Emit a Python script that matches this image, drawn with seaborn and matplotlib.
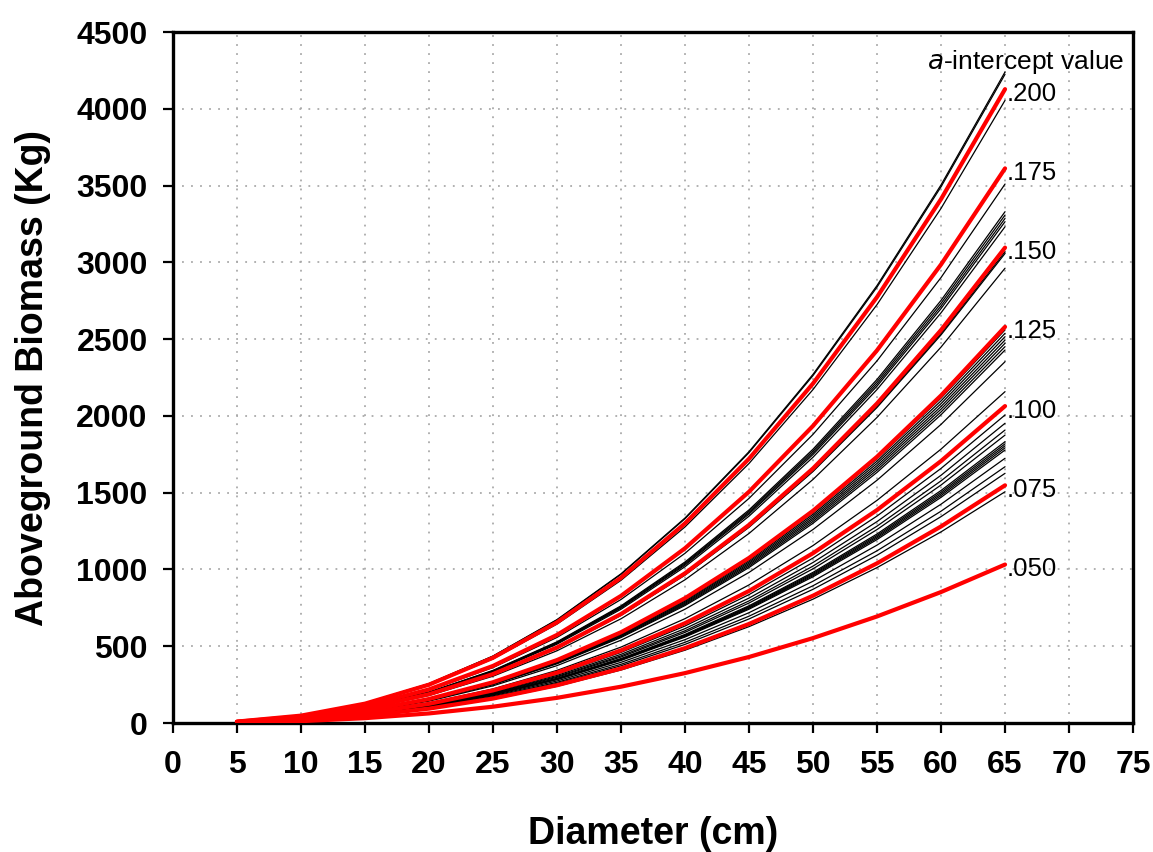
import matplotlib
matplotlib.use("Agg")
import matplotlib.pyplot as plt
import seaborn as sns
import pandas as pd

# ---------------- data ----------------
diameter = [5, 10, 15, 20, 25, 30, 35, 40, 45, 50, 55, 60, 65]

a_labels = [".050", ".075", ".100", ".125", ".150", ".175", ".200"]
red_curves = [
    [2.3, 12.0, 31.5, 62.4, 106.2, 163.9, 236.5, 325, 430, 553, 694, 853, 1032],
    [3.5, 18.0, 47.2, 93.7, 159.3, 245.9, 354.8, 487.5, 645, 829, 1040, 1280, 1548],
    [4.6, 24.0, 63.0, 124.9, 212.4, 327.8, 473, 650, 860, 1106, 1387, 1706, 2064],
    [5.8, 30.0, 78.8, 156.1, 265.5, 409.8, 591, 813, 1075, 1382, 1734, 2133, 2580],
    [6.9, 36.0, 94.5, 187.4, 318.6, 491.7, 710, 975, 1290, 1658, 2081, 2559, 3096],
    [8.1, 42.0, 110.3, 218.6, 371.7, 573.7, 828, 1138, 1506, 1935, 2427, 2986, 3612],
    [9.2, 48.0, 126.0, 249.8, 424.8, 655.6, 946, 1300, 1721, 2211, 2774, 3412, 4128],
]

black_curves = [
    [9.5, 49.3, 129.4, 256.6, 436.3, 673.4, 971.6, 1335.2, 1767.2, 2270.8, 2849.1, 3504.5, 4240],
    [9.4, 49.1, 128.9, 255.7, 434.8, 671.0, 968.2, 1330.5, 1760.9, 2262.8, 2839.0, 3492.1, 4225],
    [9.0, 47.2, 123.8, 245.4, 417.3, 644.0, 929.2, 1277.0, 1690.1, 2171.7, 2724.8, 3351.6, 4055],
    [7.8, 40.8, 107.1, 212.4, 361.2, 557.4, 804.4, 1105.3, 1462.9, 1879.9, 2358.6, 2901.2, 3510],
    [7.4, 38.7, 101.6, 201.5, 342.7, 528.8, 763.1, 1048.7, 1387.9, 1783.4, 2237.6, 2752.4, 3330],
    [7.4, 38.5, 101.0, 200.2, 340.4, 525.3, 758.1, 1041.7, 1378.7, 1771.7, 2222.8, 2734.2, 3308],
    [7.3, 38.2, 100.3, 198.8, 338.1, 521.9, 753.0, 1034.8, 1369.6, 1759.9, 2208.1, 2716.0, 3286],
    [7.3, 38.0, 99.6, 197.6, 336.0, 518.5, 748.2, 1028.2, 1360.8, 1748.6, 2193.9, 2698.7, 3265],
    [7.2, 37.6, 98.6, 195.6, 332.6, 513.3, 740.6, 1017.8, 1347.1, 1731.0, 2171.8, 2671.4, 3232],
    [6.8, 35.7, 93.7, 185.8, 315.9, 487.5, 703.5, 966.8, 1279.5, 1644.2, 2062.9, 2537.5, 3070],
    [6.8, 35.6, 93.3, 185.0, 314.7, 485.6, 700.8, 963.0, 1274.5, 1637.8, 2054.9, 2527.6, 3058],
    [6.6, 34.4, 90.4, 179.2, 304.8, 470.4, 678.8, 932.8, 1234.5, 1586.4, 1990.3, 2448.2, 2962],
    [5.7, 29.8, 78.1, 154.9, 263.4, 406.6, 586.6, 806.2, 1067.0, 1371.1, 1720.2, 2115.9, 2560],
    [5.7, 29.5, 77.5, 153.6, 261.2, 403.1, 581.6, 799.2, 1057.8, 1359.3, 1705.4, 2097.8, 2538],
    [5.6, 29.3, 76.8, 152.2, 258.9, 399.6, 576.6, 792.3, 1048.6, 1347.5, 1690.7, 2079.6, 2516],
    [5.6, 29.0, 76.1, 150.9, 256.6, 396.1, 571.5, 785.4, 1039.5, 1335.7, 1675.9, 2061.4, 2494],
    [5.5, 28.8, 75.5, 149.6, 254.5, 392.7, 566.7, 778.8, 1030.7, 1324.5, 1661.8, 2044.0, 2473],
    [5.5, 28.5, 74.8, 148.3, 252.2, 389.2, 561.7, 771.8, 1021.5, 1312.7, 1647.0, 2025.9, 2451],
    [5.4, 28.2, 74.1, 147.0, 249.9, 385.7, 556.6, 764.9, 1012.4, 1300.9, 1632.2, 2007.7, 2429],
    [5.2, 27.4, 71.8, 142.4, 242.1, 373.7, 539.2, 741.0, 980.7, 1260.2, 1581.1, 1944.8, 2353],
    [4.8, 25.1, 65.9, 130.6, 222.1, 342.7, 494.5, 679.6, 899.4, 1155.7, 1450.1, 1783.7, 2158],
    [4.5, 23.3, 61.2, 121.4, 206.4, 318.6, 459.7, 631.7, 836.1, 1074.4, 1347.9, 1658.0, 2006],
    [4.4, 22.7, 59.6, 118.1, 200.9, 310.0, 447.3, 614.7, 813.6, 1045.4, 1311.7, 1613.4, 1952],
    [4.3, 22.2, 58.2, 115.5, 196.3, 303.0, 437.2, 600.8, 795.2, 1021.9, 1282.1, 1577.0, 1908],
    [4.2, 21.8, 57.2, 113.5, 192.9, 297.8, 429.7, 590.5, 781.5, 1004.2, 1259.9, 1549.8, 1875],
    [4.1, 21.3, 55.9, 110.9, 188.5, 290.9, 419.8, 576.9, 763.6, 981.2, 1231.0, 1514.2, 1832],
    [4.1, 21.1, 55.5, 110.0, 187.1, 288.7, 416.6, 572.5, 757.7, 973.7, 1221.6, 1502.7, 1818],
    [4.0, 21.0, 55.1, 109.2, 185.7, 286.7, 413.6, 568.4, 752.3, 966.7, 1212.9, 1491.9, 1805],
    [4.0, 20.8, 54.7, 108.4, 184.4, 284.6, 410.7, 564.3, 746.9, 959.7, 1204.2, 1481.2, 1792],
    [4.0, 20.7, 54.3, 107.6, 183.0, 282.4, 407.4, 559.9, 741.1, 952.2, 1194.7, 1469.6, 1778],
    [3.8, 20.0, 52.6, 104.3, 177.4, 273.8, 395.1, 542.9, 718.5, 923.3, 1158.5, 1425.0, 1724],
    [3.7, 19.4, 50.9, 101.0, 171.7, 265.1, 382.5, 525.6, 695.6, 893.9, 1121.5, 1379.5, 1669],
    [3.6, 18.9, 49.6, 98.4, 167.3, 258.2, 372.6, 512.0, 677.7, 870.8, 1092.6, 1344.0, 1626],
    [3.4, 17.5, 46.0, 91.1, 155.0, 239.2, 345.1, 474.3, 627.7, 806.6, 1012.0, 1244.8, 1506],
]

x_ticks = list(range(0, 80, 5))
y_ticks = list(range(0, 5000, 500))

# ---------------- long tables ----------------
rows = []
for i, c in enumerate(black_curves):
    for d, v in zip(diameter, c):
        rows.append({"curve": i, "D": d, "B": v})
df_black = pd.DataFrame(rows)
rows = []
for i, c in enumerate(red_curves):
    for d, v in zip(diameter, c):
        rows.append({"curve": i, "D": d, "B": v})
df_red = pd.DataFrame(rows)

# ---------------- plot ----------------
sns.set_theme(style="white")
plt.rcParams["font.family"] = ["Liberation Sans", "DejaVu Sans"]
plt.rcParams["text.color"] = "black"
plt.rcParams["axes.labelcolor"] = "black"
plt.rcParams["xtick.color"] = "black"
plt.rcParams["ytick.color"] = "black"

fig = plt.figure(figsize=(11.53, 8.52), dpi=100)
ax = fig.add_axes([0.150, 0.1514, 0.8327, 0.8110])

sns.lineplot(data=df_black, x="D", y="B", units="curve", estimator=None,
             color="black", linewidth=0.9, ax=ax, zorder=3, legend=False)
sns.lineplot(data=df_red, x="D", y="B", units="curve", estimator=None,
             color="#ff0000", linewidth=3.0, ax=ax, zorder=4, legend=False)

ax.set_xlim(0, 75)
ax.set_ylim(0, 4500)
ax.set_xticks(x_ticks)
ax.set_yticks(y_ticks)
ax.set_xticklabels([str(t) for t in x_ticks], fontsize=23, fontweight="bold")
ax.set_yticklabels([str(t) for t in y_ticks], fontsize=23, fontweight="bold")
ax.tick_params(axis="both", direction="out", length=7.2, width=1.6,
               colors="black", bottom=True, left=True)
ax.tick_params(axis="x", pad=12)
ax.tick_params(axis="y", pad=11)

ax.grid(True, linestyle=(0, (1, 4)), color="#aaaaaa", linewidth=1.3)
for s in ax.spines.values():
    s.set_color("black")
    s.set_linewidth(2.4)

ax.set_xlabel("Diameter (cm)", fontsize=27, fontweight="bold", labelpad=26)
ax.set_ylabel("Aboveground Biomass (Kg)", fontsize=27, fontweight="bold", labelpad=18)

for lab, c in zip(a_labels, red_curves):
    ax.text(65.1, c[-1] - 30, lab, fontsize=18.5, ha="left", va="center",
            color="black", zorder=5)

ax.text(74.3, 4305, r"$\it{a}$-intercept value", fontsize=19, ha="right",
        va="center", color="black", zorder=5)

fig.savefig("out.png", dpi=100)
